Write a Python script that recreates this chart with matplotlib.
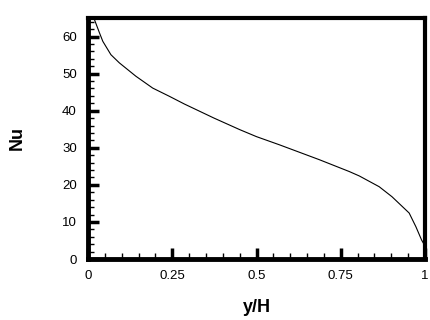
import matplotlib
matplotlib.use("Agg")
import matplotlib.pyplot as plt
from matplotlib.ticker import MultipleLocator, FixedLocator

# data
y_over_H = [0.0, 0.019, 0.034, 0.044, 0.068, 0.093, 0.142, 0.192, 0.241,
            0.286, 0.374, 0.45, 0.5, 0.568, 0.686, 0.775, 0.805, 0.864,
            0.902, 0.953, 0.973, 0.99, 1.0]
Nu = [69.0, 64.6, 61.0, 58.7, 55.1, 52.9, 49.3, 46.1, 43.9,
      41.8, 38.0, 34.9, 33.0, 30.8, 26.8, 23.6, 22.4, 19.5,
      16.8, 12.4, 8.7, 5.1, 3.5]
x_ticks = [0, 0.25, 0.5, 0.75, 1]
x_tick_labels = ["0", "0.25", "0.5", "0.75", "1"]
y_ticks = [0, 10, 20, 30, 40, 50, 60]

plt.rcParams['font.family'] = ['Liberation Sans', 'DejaVu Sans']

fig = plt.figure(figsize=(4.3, 3.2), dpi=100)
ax = fig.add_axes([88/430, 61/320, 337/430, 241/320])

ax.plot(y_over_H, Nu, color='black', lw=0.8)
ax.set_xlim(0, 1)
ax.set_ylim(0, 65)

ax.xaxis.set_major_locator(FixedLocator(x_ticks))
ax.set_xticklabels(x_tick_labels)
ax.xaxis.set_minor_locator(MultipleLocator(0.05))
ax.set_yticks(y_ticks)
ax.yaxis.set_minor_locator(MultipleLocator(2))

ax.tick_params(which='major', direction='in', length=8, width=2.5,
               labelsize=9.5, pad=8, top=False, right=False)
ax.tick_params(which='minor', direction='in', length=4.5, width=1.0,
               top=False, right=False)
ax.tick_params(axis='y', which='major', pad=8)

for side in ['left', 'bottom']:
    ax.spines[side].set_linewidth(3.5)
for side in ['top', 'right']:
    ax.spines[side].set_linewidth(3.0)
for s in ax.spines.values():
    s.set_capstyle('projecting')

ax.set_xlabel('y/H', fontsize=13, fontweight='bold', labelpad=12)
ax.set_ylabel('Nu', fontsize=13, fontweight='bold', labelpad=26)

fig.savefig('out.png', dpi=100)
